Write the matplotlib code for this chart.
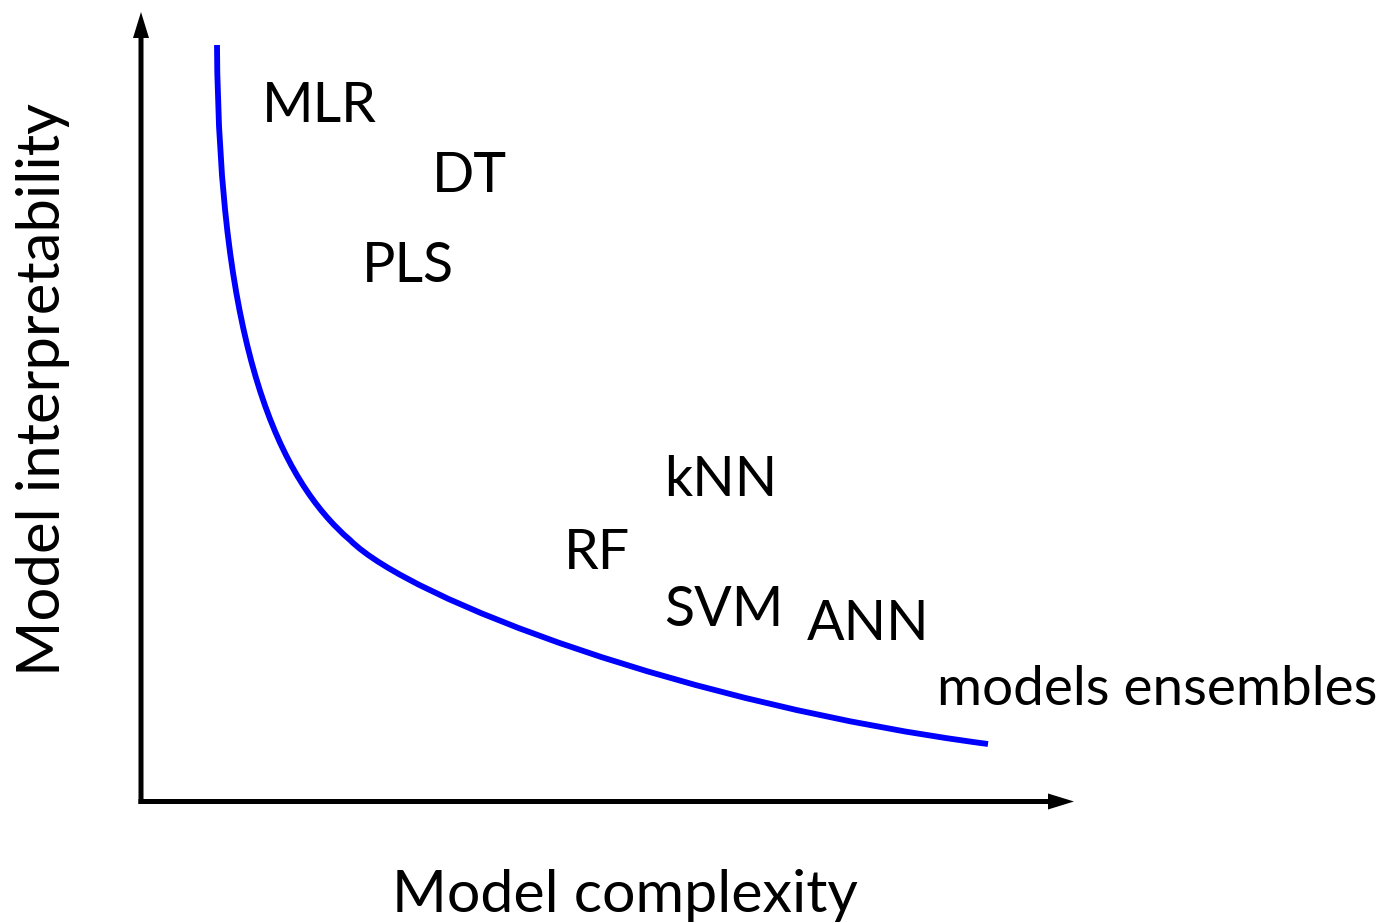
import matplotlib
matplotlib.use("Agg")
import matplotlib.pyplot as plt
from matplotlib.path import Path
from matplotlib.patches import PathPatch

plt.rcParams['font.family'] = ['Lato', 'DejaVu Sans']

# Trade-off curve: two cubic Bezier segments (pixel space of the original drawing, y downwards)
curve_x = [217, 219, 280, 350, 410, 690, 988]
curve_y = [45, 350, 480, 540, 600, 705, 744]

# Model labels and their positions (left edge, baseline)
models = ['MLR', 'DT', 'PLS', 'kNN', 'RF', 'SVM', 'ANN']
model_x = [262, 432, 362, 664, 564, 664, 807]
model_y = [122, 192, 282, 496, 569, 626, 640]

ensemble_label = 'models ensembles'
x_label = 'Model complexity'
y_label = 'Model interpretability'

W, H = 1383, 923
fig = plt.figure(figsize=(W / 100, H / 100), dpi=100)
ax = fig.add_axes([0, 0, 1, 1])
ax.set_xlim(0, W)
ax.set_ylim(H, 0)
ax.axis('off')

# axes arrows
ax.arrow(141, 804, 0, -792, width=5, head_width=16, head_length=26,
         length_includes_head=True, color='black', lw=0)
ax.arrow(138.5, 801.5, 1074 - 138.5, 0, width=5, head_width=16, head_length=26,
         length_includes_head=True, color='black', lw=0)

verts = list(zip(curve_x, curve_y))
codes = [Path.MOVETO] + [Path.CURVE4] * (len(verts) - 1)
ax.add_patch(PathPatch(Path(verts, codes), facecolor='none', edgecolor='#0000ff',
                       lw=4.2, capstyle='butt'))

fs = 40
for name, x, y in zip(models, model_x, model_y):
    ax.text(x, y, name, fontsize=fs, ha='left', va='baseline', color='black')

ax.text(937, 705, ensemble_label, fontsize=39.5, ha='left', va='baseline')
ax.text(392, 912, x_label, fontsize=42.6, ha='left', va='baseline')
ax.text(60, 676, y_label, fontsize=43, ha='left', va='baseline', rotation=90,
        rotation_mode='anchor')

fig.savefig('out.png', dpi=100)
